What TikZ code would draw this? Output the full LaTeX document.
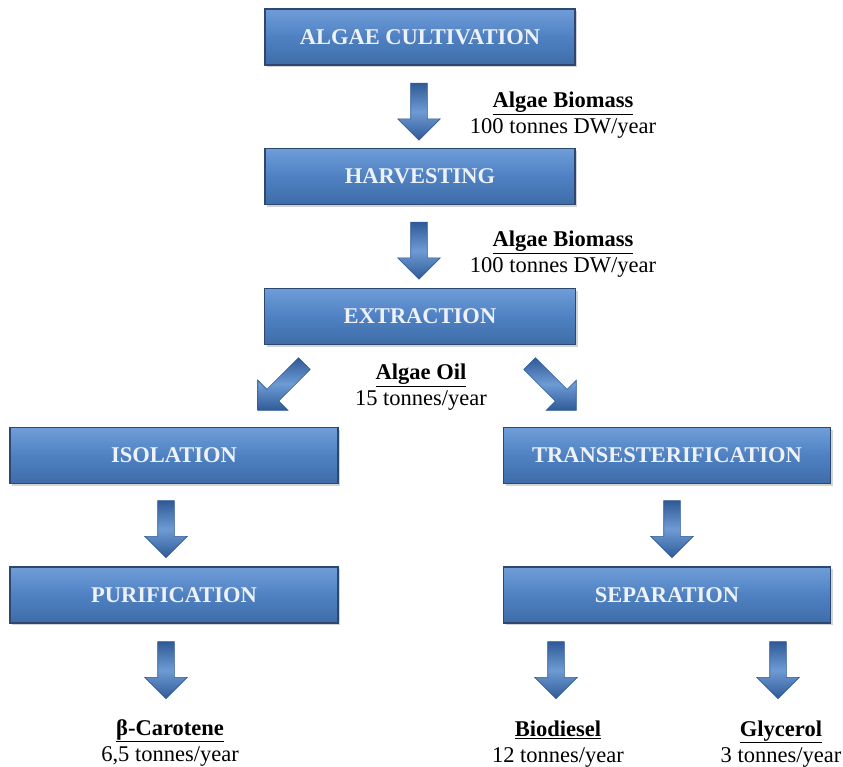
\documentclass[tikz,border=0pt]{standalone}
\usepackage{fontspec}
\setmainfont{Liberation Serif}
\usetikzlibrary{shapes.arrows,shadows,calc}
\definecolor{boxmid}{HTML}{4F81C2}
\definecolor{boxtop}{HTML}{6F9DD8}
\definecolor{boxbot}{HTML}{3E6CA8}
\definecolor{boxedge}{HTML}{2C4770}
\definecolor{arrdark}{HTML}{2F5A97}
\definecolor{arrlight}{HTML}{6E9BD4}
\definecolor{boxtext}{HTML}{EEF2F8}
\tikzset{
  procbox/.style={rectangle, draw=boxedge, line width=1.6pt,
    top color=boxtop, bottom color=boxbot, middle color=boxmid,
    minimum height=56pt, inner sep=0pt,
    font=\fontsize{22.5}{26}\selectfont\bfseries, text=boxtext,
    drop shadow={opacity=0.35, shadow xshift=2pt, shadow yshift=-2pt}},
  blockarrow/.style={single arrow, draw=arrdark, line width=0.6pt,
    top color=arrdark, bottom color=arrdark, middle color=arrlight,
    minimum height=57pt, minimum width=42pt, inner xsep=0pt, inner ysep=8pt,
    single arrow head extend=13pt, single arrow tip angle=90},
  flowlabel/.style={align=center, font=\fontsize{22.5}{26}\selectfont, inner sep=0pt}
}
\begin{document}
\begin{tikzpicture}[x=1pt,y=-1pt]
\useasboundingbox (0,0) rectangle (843,766);
% process boxes
\node[procbox, minimum width=310pt] (cult) at (420,37) {ALGAE CULTIVATION};
\node[procbox, minimum width=310pt] (harv) at (420,176.5) {HARVESTING};
\node[procbox, minimum width=311pt] (extr) at (420,316.5) {EXTRACTION};
\node[procbox, minimum width=328pt] (isol) at (174,455.5) {ISOLATION};
\node[procbox, minimum width=327pt] (trans) at (667,455.5) {TRANSESTERIFICATION};
\node[procbox, minimum width=328pt] (puri) at (174,595) {PURIFICATION};
\node[procbox, minimum width=327pt] (sepa) at (667,595) {SEPARATION};
% block arrows
\node[blockarrow, rotate=-90] (a1) at (419,107.5) {};
\node[blockarrow, rotate=-90] (a2) at (419,246.5) {};
\node[blockarrow, rotate=-135, minimum height=66pt] (a3) at (284,384) {};
\node[blockarrow, rotate=-45, minimum height=66pt] (a4) at (550,384) {};
\node[blockarrow, rotate=-90] (a5) at (166,525) {};
\node[blockarrow, rotate=-90] (a6) at (672,525) {};
\node[blockarrow, rotate=-90] (a7) at (166,666) {};
\node[blockarrow, rotate=-90] (a8) at (556,666) {};
\node[blockarrow, rotate=-90] (a9) at (778,666) {};
% labels
\node[flowlabel] (l1) at (563,115.5) {\textbf{\underline{Algae Biomass}}\\100 tonnes DW/year};
\node[flowlabel] (l2) at (563,254.5) {\textbf{\underline{Algae Biomass}}\\100 tonnes DW/year};
\node[flowlabel] (l3) at (421,387.5) {\textbf{\underline{Algae Oil}}\\15 tonnes/year};
\node[flowlabel] (l4) at (170,743) {\textbf{\underline{β-Carotene}}\\6,5 tonnes/year};
\node[flowlabel] (l5) at (558,744) {\textbf{\underline{Biodiesel}}\\12 tonnes/year};
\node[flowlabel] (l6) at (781,744) {\textbf{\underline{Glycerol}}\\3 tonnes/year};
\end{tikzpicture}
\end{document}
